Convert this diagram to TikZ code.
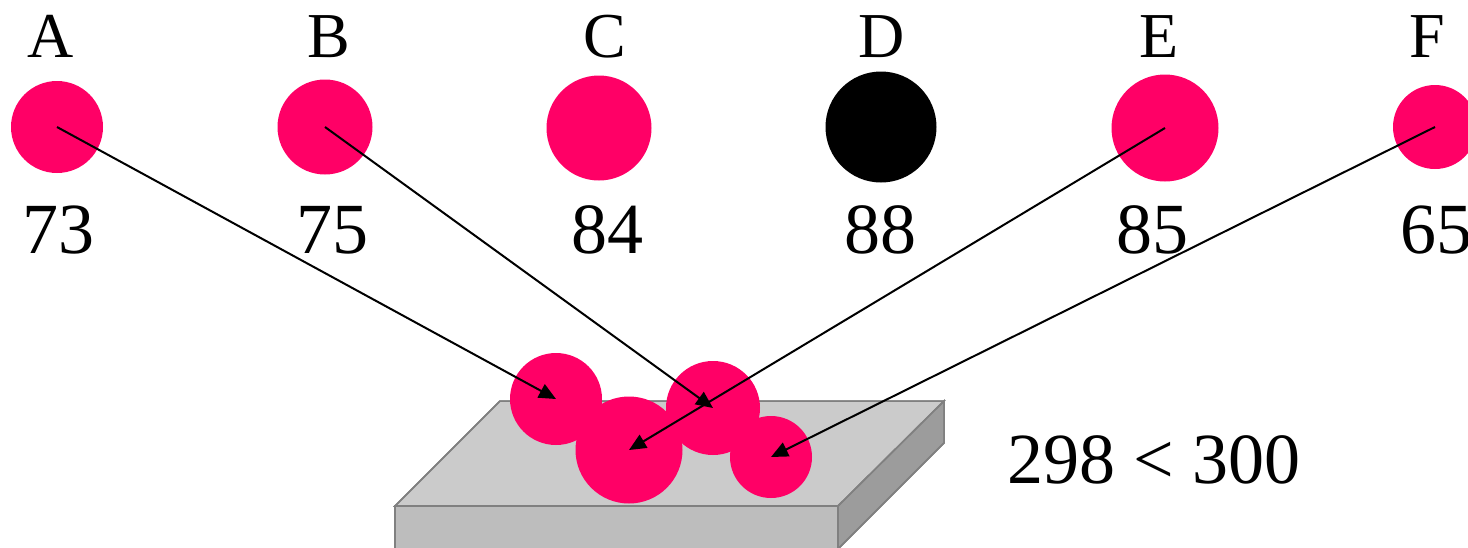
\documentclass[tikz,border=0pt]{standalone}
\usepackage{fontspec}
\setmainfont{Liberation Serif}
\usepackage{xcolor}
\usepackage{tikz}
\usetikzlibrary{arrows.meta}
\definecolor{ballpink}{HTML}{FF0066}
\definecolor{traytop}{HTML}{CBCBCB}
\definecolor{trayfront}{HTML}{BDBDBD}
\definecolor{trayside}{HTML}{9C9C9C}
\definecolor{trayedge}{HTML}{808080}

\begin{document}
\begin{tikzpicture}[
  x=1pt, y=-1pt,
  ball/.style={circle, fill=ballpink, inner sep=0pt, minimum size=#1},
  letterlbl/.style={anchor=base, inner sep=0pt, font=\fontsize{64}{70}\selectfont},
  weightlbl/.style={anchor=base, inner sep=0pt, font=\fontsize{72}{80}\selectfont},
  face/.style={draw=trayedge, line width=1.5pt, line join=miter},
  arr/.style={-{Triangle[length=17pt, width=15pt]}, line width=2pt, color=black}
]
\useasboundingbox (0,0) rectangle (1468,547);
\fill[face, fill=traytop]   (500,401) -- (944,401) -- (838,506) -- (395,506) -- cycle;
\fill[face, fill=trayfront] (395,506) -- (838,506) -- (838,549) -- (395,549) -- cycle;
\fill[face, fill=trayside]  (838,506) -- (944,401) -- (944,443) -- (838,549) -- cycle;
\draw[face] (500,401) -- (944,401) -- (838,506) -- (395,506) -- cycle;
\draw[face] (395,506) -- (395,549) (838,506) -- (838,549) (944,401) -- (944,443) -- (838,549);

\node[ball=92pt]  (p1) at (556,399) {};
\node[ball=94pt]  (p3) at (713,408) {};
\node[ball=107pt] (p2) at (629,450) {};
\node[ball=82pt]  (p4) at (771,457) {};

\node[ball=92pt]  (a) at (57,127) {};
\node[ball=95pt]  (b) at (325,127) {};
\node[ball=105pt] (c) at (599,128) {};
\node[ball=111pt, fill=black] (d) at (881,127) {};
\node[ball=107pt] (e) at (1165,128) {};
\node[ball=84pt]  (f) at (1435,127) {};

\node[letterlbl] (na) at (51,57)   {A};
\node[letterlbl] (nb) at (329,57)  {B};
\node[letterlbl] (nc) at (605,57)  {C};
\node[letterlbl] (nd) at (882,57)  {D};
\node[letterlbl] (ne) at (1159,57) {E};
\node[letterlbl] (nf) at (1427,57) {F};

\node[weightlbl] (wa) at (59,253)   {73};
\node[weightlbl] (wb) at (332,253)  {75};
\node[weightlbl] (wc) at (607,253)  {84};
\node[weightlbl] (wd) at (880,253)  {88};
\node[weightlbl] (we) at (1152,253) {85};
\node[weightlbl] (wf) at (1436,253) {65};

\node[weightlbl] (sum) at (1154,483) {298 < 300};

\draw[arr] (a.center) -- (p1.center);
\draw[arr] (b.center) -- (p3.center);
\draw[arr] (e.center) -- (p2.center);
\draw[arr] (f.center) -- (p4.center);
\end{tikzpicture}
\end{document}
